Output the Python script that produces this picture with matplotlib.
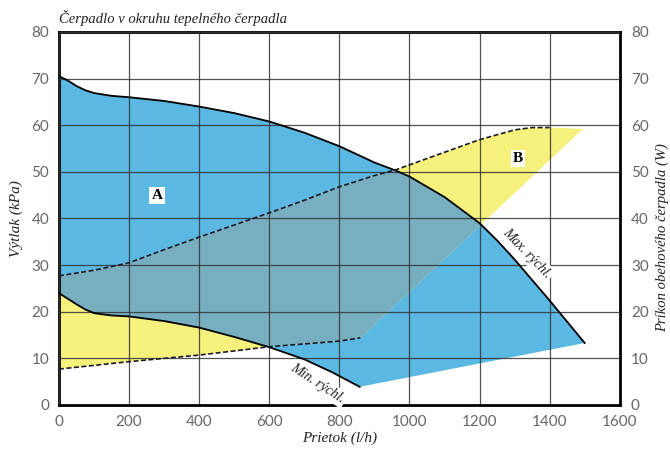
import matplotlib.pyplot as plt
from matplotlib.patches import Polygon
import numpy as np

# pump curves (kPa)
max_x = [0, 25, 50, 75, 100, 150, 200, 300, 400, 500, 600, 700, 800, 900, 960, 1000, 1100, 1200, 1250, 1300, 1400, 1500]
max_y = [70.5, 69.6, 68.4, 67.5, 66.9, 66.3, 66.0, 65.2, 64.0, 62.6, 60.8, 58.4, 55.5, 52.0, 50.3, 49.0, 44.6, 39.0, 35.3, 31.2, 22.4, 13.3]
min_x = [0, 25, 50, 75, 100, 150, 200, 300, 400, 500, 600, 700, 780, 858]
min_y = [24.0, 22.8, 21.6, 20.5, 19.7, 19.2, 19.0, 18.0, 16.6, 14.6, 12.4, 9.8, 7.0, 3.9]

# power curves (W)
pmax_x = [0, 100, 200, 300, 400, 500, 600, 700, 800, 900, 960, 1000, 1100, 1200, 1300, 1350, 1400, 1495]
pmax_y = [27.7, 28.9, 30.5, 33.3, 36.0, 38.6, 41.2, 43.9, 46.8, 49.2, 50.4, 51.5, 54.2, 56.9, 59.0, 59.5, 59.5, 59.2]
pmin_x = [0, 200, 400, 600, 800, 860]
pmin_y = [7.7, 9.3, 10.7, 12.5, 13.7, 14.4]

BLUE = '#5bb8e3'
YELLOW = '#f6f07c'
MIX = '#77afc0'

fig = plt.figure(figsize=(6.7, 4.5), dpi=100)
ax = fig.add_axes([0.088, 0.1, 0.837, 0.829])

# area A: between max and min speed curves
poly_a = list(zip(max_x, max_y)) + list(zip(min_x[::-1], min_y[::-1]))
ax.add_patch(Polygon(poly_a, closed=True, facecolor=BLUE, edgecolor='none', zorder=1))

# area B: between power curves
poly_b = list(zip(pmax_x, pmax_y)) + list(zip(pmin_x[::-1], pmin_y[::-1]))
ax.add_patch(Polygon(poly_b, closed=True, facecolor=YELLOW, edgecolor='none', zorder=1))

# overlap of A and B
clip = Polygon(poly_a, closed=True, transform=ax.transData)
mix = Polygon(poly_b, closed=True, facecolor=MIX, edgecolor='none', zorder=1.5)
ax.add_patch(mix)
mix.set_clip_path(clip)

ax.plot(max_x, max_y, color='black', lw=1.3, zorder=3)
ax.plot(min_x, min_y, color='black', lw=1.3, zorder=3)
ax.plot(pmax_x[:-1], pmax_y[:-1], color='#1a1a2a', lw=1.2, ls=(0, (3, 1.5)), zorder=3)
ax.plot(pmin_x, pmin_y, color='#1a1a2a', lw=1.2, ls=(0, (3, 1.5)), zorder=3)

ax.set_xlim(0, 1600)
ax.set_ylim(0, 80)
ax.set_xticks(np.arange(0, 1601, 200))
ax.set_yticks(np.arange(0, 81, 10))
ax.grid(True, color='#333333', lw=0.9, alpha=0.85, zorder=2)
ax.set_axisbelow(False)
for s in ax.spines.values():
    s.set_linewidth(2)
    s.set_color('black')
ax.tick_params(length=0, labelsize=11, labelcolor='#666666', pad=7)
for lab in ax.get_xticklabels() + ax.get_yticklabels():
    lab.set_family('Lato')

ax2 = ax.twinx()
ax2.set_ylim(0, 80)
ax2.set_yticks(np.arange(0, 81, 10))
ax2.tick_params(length=0, labelsize=11, labelcolor='#666666', pad=8)
for lab in ax2.get_yticklabels():
    lab.set_family('Lato')
for s in ax2.spines.values():
    s.set_visible(False)

serif = dict(family='Liberation Serif', style='italic', color='#222222')
fig.text(0.088, 0.948, 'Čerpadlo v okruhu tepelného čerpadla', fontsize=10.5, **serif)
ax.set_xlabel('Prietok (l/h)', fontsize=11, labelpad=2, **serif)
ax.set_ylabel('Výtlak (kPa)', fontsize=11, labelpad=6, **serif)
ax2.set_ylabel('Príkon obehového čerpadla (W)', fontsize=10.5, **serif)
ax2.yaxis.set_label_coords(1.064, 0.45)

box = dict(facecolor='white', edgecolor='none', pad=1.5)
ax.text(280, 45, 'A', fontsize=11, weight='bold', family='Liberation Serif', ha='center', va='center', bbox=box, zorder=6)
ax.text(1309, 52.8, 'B', fontsize=11, weight='bold', family='Liberation Serif', ha='center', va='center', bbox=box, zorder=6)
ax.text(1335, 32.5, 'Max. rýchl.', fontsize=10, rotation=-46, ha='center', va='center',
        rotation_mode='anchor', bbox=box, zorder=6, **serif)
ax.text(738, 4.6, 'Min. rýchl.', fontsize=10, rotation=-33, ha='center', va='center',
        rotation_mode='anchor', bbox=box, zorder=6, clip_on=False, **serif)

fig.savefig('out.png', dpi=100)
